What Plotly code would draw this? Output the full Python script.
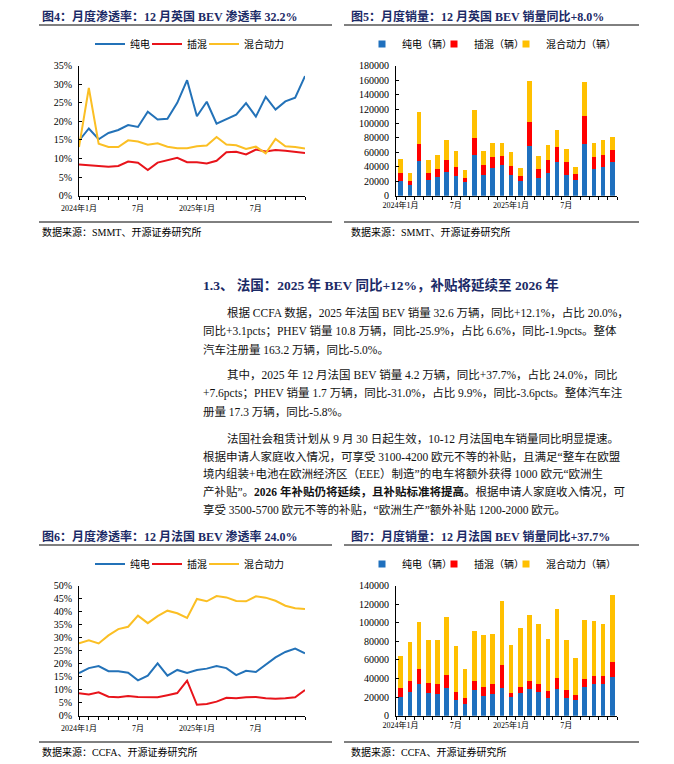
import plotly.graph_objects as go

W, H = 674, 764
FONT = "Liberation Serif, Noto Sans CJK SC, serif"
NAVY = "#1B2A66"
BLUE = "#2372B8"
RED = "#E8141B"
YELLOW = "#FBBF24"
BAR_BLUE = "#1F70BE"
BAR_RED = "#FF0000"
BAR_YELLOW = "#FFC000"

# ---------------- data ----------------
months = ["2024-01", "2024-02", "2024-03", "2024-04", "2024-05", "2024-06",
          "2024-07", "2024-08", "2024-09", "2024-10", "2024-11", "2024-12",
          "2025-01", "2025-02", "2025-03", "2025-04", "2025-05", "2025-06",
          "2025-07", "2025-08", "2025-09", "2025-10", "2025-11", "2025-12"]
tick_labels = ["2024年1月", "", "", "", "", "", "7月", "", "", "", "", "",
               "2025年1月", "", "", "", "", "", "7月", "", "", "", "", ""]

# Fig 4: UK penetration (%)
uk_bev_share = [14.8, 18.1, 15.2, 16.9, 17.7, 19.0, 18.5, 22.6, 20.5, 20.7, 25.0, 31.1,
                21.4, 25.3, 19.4, 20.5, 21.8, 24.9, 21.3, 26.6, 23.2, 25.4, 26.4, 32.2]
uk_phev_share = [8.4, 8.2, 7.8, 7.8, 8.0, 9.2, 8.9, 6.9, 8.9, 9.6, 10.2, 9.0,
                 9.0, 8.7, 9.4, 11.7, 11.8, 11.1, 12.4, 11.9, 12.3, 12.1, 11.8, 11.5]
uk_hev_share = [13.1, 29.0, 14.0, 13.1, 13.1, 14.9, 14.6, 13.7, 14.1, 13.2, 12.8, 12.8,
                13.3, 13.5, 15.8, 13.8, 13.6, 12.6, 13.2, 11.4, 15.3, 13.3, 13.1, 12.7]

# Fig 5: UK sales (units)
uk_bev = [19800, 14300, 47500, 22200, 25400, 33200, 26800, 18500, 55800, 28600, 37800, 42900,
          28200, 20300, 68300, 24000, 31800, 46600, 28200, 21200, 72000, 36500, 39200, 46100]
uk_phev = [11600, 6000, 24500, 9600, 11500, 16600, 12900, 5500, 24500, 13900, 15700, 12000,
           12900, 6900, 34200, 13400, 18000, 21200, 17900, 8800, 38300, 16600, 17100, 17100]
uk_hev = [19400, 10600, 44300, 18000, 19900, 26800, 21700, 12000, 38800, 19800, 19900, 18500,
          18900, 11600, 56300, 17100, 20300, 23600, 19000, 10200, 47500, 20300, 20800, 18000]

# Fig 6: France penetration (%)
fr_bev_share = [16.4, 18.3, 19.1, 17.1, 17.1, 16.5, 13.6, 15.4, 20.1, 15.4, 17.6, 16.4,
                17.6, 18.1, 19.1, 18.3, 15.6, 17.3, 16.8, 19.6, 22.4, 24.5, 25.8, 24.0]
fr_phev_share = [8.6, 8.2, 9.0, 7.3, 7.1, 7.6, 7.2, 7.1, 7.1, 7.9, 8.7, 13.5,
                 4.2, 4.5, 5.4, 6.9, 6.7, 7.1, 7.2, 6.7, 6.5, 6.7, 7.1, 9.9]
fr_hev_share = [27.8, 29.0, 27.8, 30.9, 33.3, 34.2, 38.5, 35.6, 38.3, 40.4, 39.4, 37.6,
                44.9, 44.0, 46.0, 45.5, 44.1, 44.0, 45.9, 45.4, 44.2, 42.3, 41.3, 41.0]

# Fig 7: France sales (units)
fr_bev = [20100, 25800, 34100, 24400, 23700, 29800, 16900, 12900, 27600, 21200, 23000, 30200,
          19700, 24800, 29100, 25500, 19400, 28700, 19400, 16900, 31200, 33700, 33700, 41300]
fr_phev = [10100, 11900, 16500, 10800, 10000, 13600, 8900, 6500, 10100, 10000, 11100, 24700,
           5100, 6400, 7900, 9000, 7500, 12200, 8200, 5700, 8600, 9400, 9400, 16900]
fr_hev = [34100, 41300, 49900, 46300, 47800, 62900, 48900, 30500, 53100, 55300, 53900, 69000,
          51700, 62900, 71400, 63900, 55300, 74300, 53500, 39900, 62900, 59200, 56000, 71400]

line_names = ["纯电", "插混", "混合动力"]
bar_names = ["纯电（辆）", "插混（辆）", "混合动力（辆）"]

titles = ["图4：月度渗透率：12 月英国 BEV 渗透率 32.2%",
          "图5：月度销量：12 月英国 BEV 销量同比+8.0%",
          "图6：月度渗透率：12 月法国 BEV 渗透率 24.0%",
          "图7：月度销量：12 月法国 BEV 销量同比+37.7%"]
sources = ["数据来源：SMMT、开源证券研究所", "数据来源：SMMT、开源证券研究所",
           "数据来源：CCFA、开源证券研究所", "数据来源：CCFA、开源证券研究所"]

heading = "1.3、 法国：2025 年 BEV 同比+12%，补贴将延续至 2026 年"
body_lines = [
    ("根据 CCFA 数据，2025 年法国 BEV 销量 32.6 万辆，同比+12.1%，占比 20.0%，", True),
    ("同比+3.1pcts；PHEV 销量 10.8 万辆，同比-25.9%，占比 6.6%，同比-1.9pcts。整体", False),
    ("汽车注册量 163.2 万辆，同比-5.0%。", False),
    ("其中，2025 年 12 月法国 BEV 销量 4.2 万辆，同比+37.7%，占比 24.0%，同比", True),
    ("+7.6pcts；PHEV 销量 1.7 万辆，同比-31.0%，占比 9.9%，同比-3.6pcts。整体汽车注", False),
    ("册量 17.3 万辆，同比-5.8%。", False),
    ("法国社会租赁计划从 9 月 30 日起生效，10-12 月法国电车销量同比明显提速。", True),
    ("根据申请人家庭收入情况，可享受 3100-4200 欧元不等的补贴，且满足“整车在欧盟", False),
    ("境内组装+电池在欧洲经济区（EEE）制造”的电车将额外获得 1000 欧元“欧洲生", False),
    ("产补贴”。<b>2026 年补贴仍将延续，且补贴标准将提高。</b>根据申请人家庭收入情况，可", False),
    ("享受 3500-5700 欧元不等的补贴，“欧洲生产”额外补贴 1200-2000 欧元。", False),
]
body_y = [312.7, 331, 349.3, 375, 393.3, 411.7, 438.3, 456, 473.7, 491.7, 509.3]


def px(x):
    return x / W


def py(y):
    return 1 - y / H


fig = go.Figure()

# line charts
line_colors = [BLUE, RED, YELLOW]
for series, ax, leg in [((uk_bev_share, uk_phev_share, uk_hev_share), ("x", "y"), "legend"),
                        ((fr_bev_share, fr_phev_share, fr_hev_share), ("x3", "y3"), "legend3")]:
    for vals, name, col in zip(series, line_names, line_colors):
        fig.add_trace(go.Scatter(x=months, y=vals, name=name, mode="lines",
                                 line=dict(color=col, width=2),
                                 xaxis=ax[0], yaxis=ax[1], legend=leg))
    # blank spacer entry so the last legend text is not clipped
    fig.add_trace(go.Scatter(x=[None], y=[None], name=" ", mode="lines",
                             line=dict(color="rgba(0,0,0,0)", width=0),
                             xaxis=ax[0], yaxis=ax[1], legend=leg, hoverinfo="skip"))

# bar charts
bar_colors = [BAR_BLUE, BAR_RED, BAR_YELLOW]
for series, ax, leg in [((uk_bev, uk_phev, uk_hev), ("x2", "y2"), "legend2"),
                        ((fr_bev, fr_phev, fr_hev), ("x4", "y4"), "legend4")]:
    for vals, name, col in zip(series, bar_names, bar_colors):
        fig.add_trace(go.Bar(x=months, y=vals, name=name, marker=dict(color=col, line_width=0),
                             xaxis=ax[0], yaxis=ax[1], showlegend=False))
    for name, col in zip(bar_names, bar_colors):
        fig.add_trace(go.Scatter(x=[None], y=[None], name=name, mode="markers",
                                 marker=dict(symbol="square", size=7, color=col),
                                 xaxis=ax[0], yaxis=ax[1], legend=leg))
    fig.add_trace(go.Scatter(x=[None], y=[None], name=" ", mode="markers",
                             marker=dict(size=1, color="rgba(0,0,0,0)"),
                             xaxis=ax[0], yaxis=ax[1], legend=leg, hoverinfo="skip"))

tick_font = dict(family=FONT, size=10, color="#000")
xtick_font = dict(family=FONT, size=8, color="#000")

LEFT = (79, 305)
RIGHT = (396, 617)
TOP = (65.7, 195.7)
BOT = (585.7, 715.7)


def xaxis(dom, line_chart, anchor):
    d = dict(domain=[px(dom[0]), px(dom[1])], type="category", tickmode="array",
             tickvals=months, ticktext=tick_labels, ticks="outside", ticklen=3,
             tickcolor="#000", showline=True, linecolor="#000", linewidth=1,
             showgrid=False, zeroline=False, tickfont=xtick_font, tickangle=0,
             fixedrange=True, automargin=False, anchor=anchor, ticklabelstandoff=2)
    if line_chart:
        d.update(range=[0, len(months) - 1], tickson="labels")
    else:
        d.update(range=[-0.5, len(months) - 0.5], tickson="boundaries")
    return d


def yaxis(dom, rng, dtick, suffix, anchor):
    return dict(domain=[py(dom[1]), py(dom[0])], range=rng, dtick=dtick, tick0=0,
                ticksuffix=suffix, tickformat="d", ticks="inside", ticklen=3, tickcolor="#000",
                showline=True, linecolor="#000", linewidth=1, showgrid=False,
                zeroline=False, tickfont=tick_font, anchor=anchor, ticklabelstandoff=4,
                fixedrange=True, automargin=False)


def legend(lx, cy, entry):
    return dict(orientation="h", x=px(lx), xanchor="left", y=py(cy), yanchor="middle",
                font=dict(family=FONT, size=10, color="#000"), bgcolor="rgba(0,0,0,0)",
                itemwidth=30, tracegroupgap=0, traceorder="normal", entrywidth=entry,
                itemclick=False, itemdoubleclick=False)


annotations = []
shapes = []
chart_boxes = [(40, 0, 39, 332), (349, 0, 344, 639), (40, 520, 39, 332), (349, 520, 344, 639)]
for (tx, oy, lx0, lx1), t, s in zip(chart_boxes, titles, sources):
    annotations.append(dict(text="<b>" + t + "</b>", x=px(tx), y=py(oy + 16), xref="paper",
                            yref="paper", xanchor="left", yanchor="middle", showarrow=False,
                            font=dict(family=FONT, size=12, color=NAVY)))
    annotations.append(dict(text=s, x=px(tx), y=py(oy + 232), xref="paper", yref="paper",
                            xanchor="left", yanchor="middle", showarrow=False,
                            font=dict(family=FONT, size=10, color="#000")))
    for ly in (oy + 25, oy + 222):
        shapes.append(dict(type="line", xref="paper", yref="paper", x0=px(lx0), x1=px(lx1),
                           y0=py(ly), y1=py(ly), line=dict(color="#000", width=1)))

annotations.append(dict(text="<b>" + heading + "</b>", x=px(201), y=py(285), xref="paper",
                        yref="paper", xanchor="left", yanchor="middle", showarrow=False,
                        font=dict(family=FONT, size=13.5, color=NAVY)))
for (txt, indent), yy in zip(body_lines, body_y):
    annotations.append(dict(text=txt, x=px(225 if indent else 201), y=py(yy), xref="paper",
                            yref="paper", xanchor="left", yanchor="middle", showarrow=False,
                            font=dict(family=FONT, size=11.5, color="#111")))

fig.update_layout(
    width=W, height=H, margin=dict(l=0, r=0, t=0, b=0, autoexpand=False),
    paper_bgcolor="#fff", plot_bgcolor="#fff",
    barmode="stack", bargap=0.5,
    xaxis=xaxis(LEFT, True, "y"), yaxis=yaxis(TOP, [0, 35], 5, "%", "x"),
    xaxis2=xaxis(RIGHT, False, "y2"), yaxis2=yaxis(TOP, [0, 180000], 20000, "", "x2"),
    xaxis3=xaxis(LEFT, True, "y3"), yaxis3=yaxis(BOT, [0, 50], 5, "%", "x3"),
    xaxis4=xaxis(RIGHT, False, "y4"), yaxis4=yaxis(BOT, [0, 140000], 20000, "", "x4"),
    legend=legend(90, 44, 12), legend2=legend(362, 44, 27),
    legend3=legend(90, 564, 12), legend4=legend(362, 564, 27),
    annotations=annotations, shapes=shapes, showlegend=True,
)

fig.write_html("out.html", config={"displayModeBar": False},
               post_script="document.body.style.margin='0';document.body.style.overflow='hidden';")
